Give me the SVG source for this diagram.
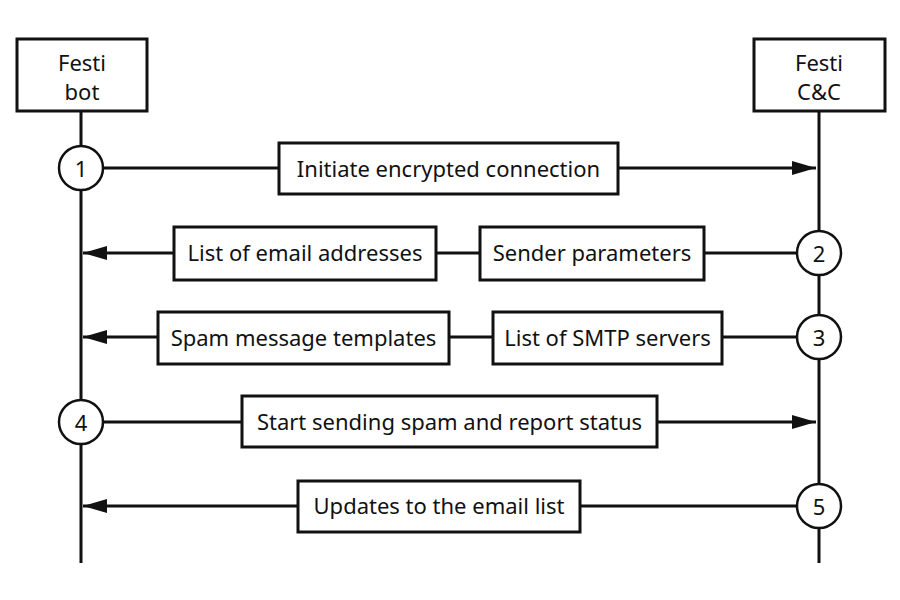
<svg xmlns="http://www.w3.org/2000/svg" width="900" height="600" viewBox="0 0 900 600">
<style>
.box{fill:#fff;stroke:#111;stroke-width:3}
.ln{stroke:#111;stroke-width:3;fill:none}
.c{fill:#fff;stroke:#111;stroke-width:2.5}
text{font-family:"Noto Sans","Liberation Sans",sans-serif;font-size:22px;fill:#111;text-anchor:middle;dominant-baseline:central}
</style>
<defs>
<marker id="ah" markerUnits="userSpaceOnUse" markerWidth="26" markerHeight="14" refX="24" refY="7" orient="auto">
<path d="M0,0 L24,7 L0,14 Z" fill="#111"/>
</marker>
</defs>
<rect width="900" height="600" fill="#fff"/>
<g id="connectors">
<line class="ln" x1="81" y1="111" x2="81" y2="563"/>
<line class="ln" x1="819" y1="111" x2="819" y2="563"/>
<line class="ln" x1="103" y1="168" x2="279" y2="168"/>
<line class="ln" x1="618" y1="168" x2="816" y2="168" marker-end="url(#ah)"/>
<line class="ln" x1="797" y1="253" x2="704" y2="253"/>
<line class="ln" x1="480" y1="253" x2="436" y2="253"/>
<line class="ln" x1="174" y1="253" x2="83" y2="253" marker-end="url(#ah)"/>
<line class="ln" x1="797" y1="337" x2="722" y2="337"/>
<line class="ln" x1="493" y1="337" x2="449" y2="337"/>
<line class="ln" x1="158" y1="337" x2="83" y2="337" marker-end="url(#ah)"/>
<line class="ln" x1="103" y1="422" x2="242" y2="422"/>
<line class="ln" x1="657" y1="422" x2="816" y2="422" marker-end="url(#ah)"/>
<line class="ln" x1="797" y1="506" x2="580" y2="506"/>
<line class="ln" x1="298" y1="506" x2="83" y2="506" marker-end="url(#ah)"/>
</g>
<g id="festi-bot"><rect class="box" x="17" y="39" width="130" height="72"/><text x="82" y="62">Festi</text><text x="82" y="91">bot</text></g>
<g id="festi-cc"><rect class="box" x="754" y="39" width="131" height="72"/><text x="819" y="62">Festi</text><text x="819" y="91">C&amp;C</text></g>
<g id="step1"><circle class="c" cx="81" cy="168" r="22"/><text x="81" y="168">1</text></g>
<g id="step2"><circle class="c" cx="819" cy="253" r="22"/><text x="819" y="253">2</text></g>
<g id="step3"><circle class="c" cx="819" cy="337" r="22"/><text x="819" y="337">3</text></g>
<g id="step4"><circle class="c" cx="81" cy="422" r="22"/><text x="81" y="422">4</text></g>
<g id="step5"><circle class="c" cx="819" cy="506" r="22"/><text x="819" y="506">5</text></g>
<g id="msg-initiate"><rect class="box" x="279" y="143" width="339" height="51"/><text x="448.5" y="168">Initiate encrypted connection</text></g>
<g id="msg-email-list"><rect class="box" x="174" y="227" width="262" height="53"/><text x="305" y="252">List of email addresses</text></g>
<g id="msg-sender"><rect class="box" x="480" y="227" width="224" height="53"/><text x="592" y="252">Sender parameters</text></g>
<g id="msg-templates"><rect class="box" x="158" y="312" width="291" height="52"/><text x="303.5" y="337">Spam message templates</text></g>
<g id="msg-smtp"><rect class="box" x="493" y="312" width="229" height="52"/><text x="607.5" y="337">List of SMTP servers</text></g>
<g id="msg-start"><rect class="box" x="242" y="396" width="415" height="51"/><text x="449.5" y="421">Start sending spam and report status</text></g>
<g id="msg-updates"><rect class="box" x="298" y="481" width="282" height="51"/><text x="439" y="505">Updates to the email list</text></g>
</svg>
